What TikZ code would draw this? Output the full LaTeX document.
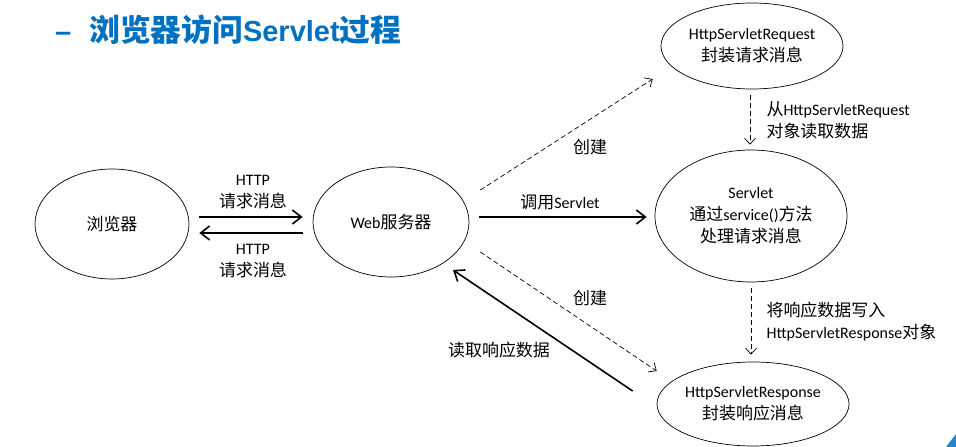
\documentclass[tikz,border=0pt]{standalone}
\usepackage{fontspec}
\setmainfont{Carlito}
\newfontfamily\cjk[Scale=1.06]{Noto Sans CJK SC}
\newfontfamily\titlefont{Liberation Sans}
\usepackage{tikz}
\usetikzlibrary{positioning,arrows.meta,shapes.geometric,calc}
\definecolor{titleblue}{RGB}{0,112,192}
\newcommand{\zh}[1]{{\cjk #1}}

\begin{document}
\begin{tikzpicture}[
  x=1pt,y=1pt,
  every node/.style={font=\fontsize{16}{22}\selectfont,align=center},
  bubble/.style={draw,ellipse,line width=0.7pt,inner sep=0pt},
  call/.style={line width=1.6pt,-{Straight Barb[length=9pt,width=14pt]}},
  create/.style={line width=0.7pt,dash pattern=on 5pt off 3pt,
    -{Straight Barb[length=6pt,width=11pt]}}
]
  \useasboundingbox (0,0) rectangle (956,447);

  % 标题
  \node[anchor=west,inner sep=0pt,text=titleblue,
    font=\fontsize{29}{34}\selectfont\titlefont\bfseries] (title) at (55,417)
    {–\hspace{18pt}\zh{浏览器访问}Servlet\zh{过程}};
  \fill[titleblue!85] (946,0) -- (956,13) -- (956,0) -- cycle;

  % 椭圆
  \node[bubble,minimum width=154pt,minimum height=110pt] (browser) at (112,223)
    {\zh{浏览器}};
  \node[bubble,minimum width=156pt,minimum height=110pt] (web) at (391,225)
    {Web\zh{服务器}};
  \node[bubble,minimum width=182pt,minimum height=86pt] (req) at (752,401)
    {HttpServletRequest\\ \zh{封装请求消息}};
  \node[bubble,minimum width=192pt,minimum height=132pt] (servlet) at (751,231)
    {Servlet\\ \zh{通过}service()\zh{方法}\\ \zh{处理请求消息}};
  \node[bubble,minimum width=182pt,minimum height=84pt] (resp) at (753,43)
    {HttpServletResponse\\ \zh{封装响应消息}};

  % 浏览器 <-> Web服务器
  \draw[call] ([shift={(10,7)}]browser.east) -- ([shift={(-10,5)}]web.west);
  \draw[call] ([shift={(-10,-11)}]web.west) -- ([shift={(10,-9)}]browser.east);
  \node (httpin) at (253,255) {HTTP\\ \zh{请求消息}};
  \node (httpout) at (253,186) {HTTP\\ \zh{请求消息}};

  % Web服务器 -> Servlet
  \draw[call] ([shift={(10,5)}]web.east) -- ([shift={(-8,-1)}]servlet.west);
  \node (invoke) at (560,245) {\zh{调用}Servlet};

  % 创建 request / response
  \draw[create] ([shift={(11,32)}]web.east) -- ([shift={(-8,-33)}]req.west);
  \node (newreq) at (590,300) {\zh{创建}};
  \draw[create] ([shift={(11,-30)}]web.east) -- ([shift={(0,33)}]resp.west);
  \node (newresp) at (590,149) {\zh{创建}};

  % 读取响应数据
  \draw[call] ([shift={(-24,13)}]resp.west) -- ([shift={(62,-48)}]web.center);
  \node (readresp) at (499,97) {\zh{读取响应数据}};

  % 纵向虚线
  \draw[create] ([shift={(-2,-6)}]req.south) -- ([shift={(-1,5)}]servlet.north);
  \node[anchor=west,align=left] (readreq) at (763,327)
    {\zh{从}HttpServletRequest\\ \zh{对象读取数据}};
  \draw[create] ([shift={(0,-6)}]servlet.south) -- ([shift={(-2,7)}]resp.north);
  \node[anchor=west,align=left] (write) at (763,125)
    {\zh{将响应数据写入}\\ HttpServletResponse\zh{对象}};
\end{tikzpicture}
\end{document}
